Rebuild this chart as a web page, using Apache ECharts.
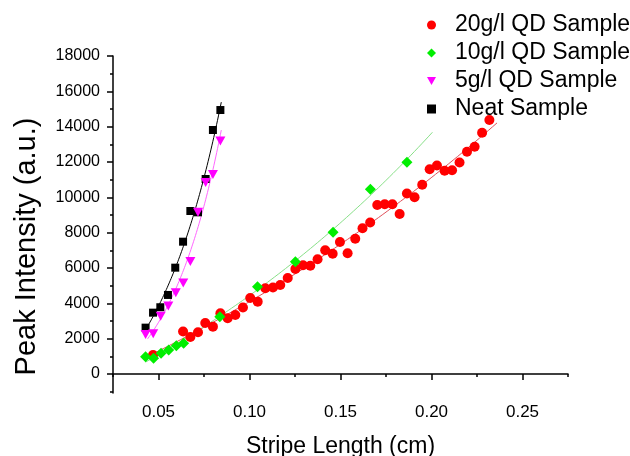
<!DOCTYPE html>
<html>
<head>
<meta charset="utf-8">
<script src="https://cdn.jsdelivr.net/npm/echarts@6/dist/echarts.min.js"></script>
<style>
  html, body { margin: 0; padding: 0; background: #fff; }
  #chart { width: 630px; height: 456px; }
</style>
</head>
<body>
<div id="chart"></div>
<script>
// Sample names (legend order)
const seriesNames = ['20g/l QD Sample', '10g/l QD Sample', '5g/l QD Sample', 'Neat Sample'];

// Stripe length (cm) and peak intensity (a.u.) per sample
const x20 = [0.0470, 0.0635, 0.0675, 0.0717, 0.0757, 0.0799,
             0.0840, 0.0880, 0.0922, 0.0964, 0.1004, 0.1045, 0.1087, 0.1129, 0.1169, 0.1210,
             0.1252, 0.1294, 0.1334, 0.1374, 0.1416, 0.1457, 0.1497, 0.1539, 0.1581, 0.1621,
             0.1663, 0.1702, 0.1743, 0.1785, 0.1825, 0.1865, 0.1907, 0.1949, 0.1990, 0.2030,
             0.2072, 0.2113, 0.2154, 0.2195, 0.2237, 0.2278, 0.2318];
const y20 = [1075, 2405, 2094, 2360, 2886, 2677,
             3435, 3152, 3339, 3763, 4301, 4092, 4850, 4895, 5037, 5433,
             5942, 6151, 6129, 6497, 7000, 6808, 7470, 6830, 7657, 8245,
             8573, 9564, 9603, 9603, 9054, 10215, 10000, 10712, 11584, 11799,
             11499, 11527, 11969, 12580, 12863, 13655, 14374];

const x10 = [0.0429, 0.0473, 0.0514, 0.0556, 0.0598, 0.0638, 0.0837, 0.1044, 0.1252, 0.1459, 0.1664, 0.1865];
const y10 = [979, 888, 1171, 1358, 1602, 1737, 3243, 4941, 6355, 8019, 10453, 11981];

const x5 = [0.0429, 0.0471, 0.0512, 0.0554, 0.0595, 0.0636, 0.0675, 0.0717, 0.0759, 0.0799, 0.0840];
const y5 = [2235, 2275, 3265, 3848, 4601, 5150, 6367, 9151, 10838, 11290, 13186];

const xNeat = [0.0429, 0.0470, 0.0510, 0.0552, 0.0592, 0.0635, 0.0675, 0.0717, 0.0759, 0.0799, 0.0840];
const yNeat = [2620, 3469, 3775, 4471, 6016, 7487, 9225, 9150, 11036, 13809, 14941];

// x extent of each growth-fit curve
const fitStart = [0.0429, 0.0429, 0.0440, 0.0429];
const fitEnd   = [0.2360, 0.2005, 0.0845, 0.0845];

// Axis ticks
const xMajorTicks = [0.05, 0.10, 0.15, 0.20, 0.25];
const xMinorTicks = [0.025, 0.075, 0.125, 0.175, 0.225, 0.275];
const yMajorTicks = [0, 2000, 4000, 6000, 8000, 10000, 12000, 14000, 16000, 18000];
const yMinorTicks = [-1000, 1000, 3000, 5000, 7000, 9000, 11000, 13000, 15000, 17000];

const markerColors = ['#ff0000', '#00ee00', '#ff00ff', '#000000'];
const fitColors = ['#e0505a', '#88e088', '#ff66ff', '#000000'];
const FONT = '"Liberation Sans", Arial, sans-serif';
const TRIANGLE_DOWN = 'path://M0,0L10,0L5,9Z';

// Exponential growth fit y = y0 + A*exp(B*x): scan B, solve y0 and A by least squares
function fitExpGrowth(xs, ys) {
  const n = xs.length;
  const my = ys.reduce((s, v) => s + v, 0) / n;
  let best = null;
  for (let b = 0.5; b <= 120; b += 0.05) {
    const e = xs.map(x => Math.exp(b * x));
    const me = e.reduce((s, v) => s + v, 0) / n;
    let cov = 0, ve = 0;
    for (let i = 0; i < n; i++) { cov += (e[i] - me) * (ys[i] - my); ve += (e[i] - me) * (e[i] - me); }
    const a = cov / ve, y0 = my - a * me;
    let sse = 0;
    for (let i = 0; i < n; i++) { const r = ys[i] - (y0 + a * e[i]); sse += r * r; }
    if (!best || sse < best.sse) best = { a, b, y0, sse };
  }
  return best;
}

function fitCurve(xs, ys, x0, x1) {
  const f = fitExpGrowth(xs, ys);
  const pts = [];
  const steps = 80;
  for (let i = 0; i <= steps; i++) {
    const x = x0 + (x1 - x0) * i / steps;
    pts.push([x, f.y0 + f.a * Math.exp(f.b * x)]);
  }
  return pts;
}

const xs = [x20, x10, x5, xNeat];
const ys = [y20, y10, y5, yNeat];
const symbols = ['circle', 'diamond', TRIANGLE_DOWN, 'rect'];
const symbolSizes = [10, 11, [10, 9], 8];

const fitSeries = xs.map((xv, k) => ({
  type: 'line',
  name: seriesNames[k] + ' fit',
  data: fitCurve(xv, ys[k], fitStart[k], fitEnd[k]),
  showSymbol: false,
  symbol: 'none',
  lineStyle: { color: fitColors[k], width: 1 },
  silent: true,
  z: 1
}));

const drawOrder = [0, 1, 3, 2];
const scatterSeries = drawOrder.map(k => ({
  type: 'scatter',
  name: seriesNames[k],
  data: xs[k].map((x, i) => [x, ys[k][i]]),
  symbol: symbols[k],
  symbolSize: symbolSizes[k],
  itemStyle: { color: markerColors[k], opacity: 1 },
  z: 3
}));

const axisLine = { show: true, lineStyle: { color: '#000', width: 1.5 } };

const chart = echarts.init(document.getElementById('chart'), null, { renderer: 'canvas' });
chart.setOption({
  animation: false,
  backgroundColor: '#fff',
  grid: { left: 113, right: 62, top: 56, bottom: 63, containLabel: false, outerBoundsMode: 'none' },
  legend: {
    orient: 'vertical',
    left: 422,
    top: 6,
    itemWidth: 9,
    itemHeight: 9,
    itemGap: 0,
    selectedMode: false,
    textStyle: { fontSize: 23, lineHeight: 28, color: '#000', fontFamily: FONT, padding: [0, 0, 0, 14] },
    data: seriesNames.map((name, k) => ({ name, icon: symbols[k] }))
  },
  xAxis: [
    {
      type: 'value', min: 0.025, max: 0.275, position: 'bottom',
      axisLine: axisLine,
      axisTick: { show: true, customValues: xMajorTicks, length: 6, lineStyle: { color: '#000', width: 1.5 } },
      axisLabel: { customValues: xMajorTicks, formatter: v => v.toFixed(2), margin: 11, fontSize: 17, color: '#000', fontFamily: FONT },
      splitLine: { show: false },
      name: 'Stripe Length (cm)', nameLocation: 'middle', nameGap: 42,
      nameTextStyle: { fontSize: 23, color: '#000', fontFamily: FONT }
    },
    {
      type: 'value', min: 0.025, max: 0.275, position: 'bottom',
      axisLine: { show: false },
      axisTick: { show: true, customValues: xMinorTicks, length: 3, lineStyle: { color: '#000', width: 1.5 } },
      axisLabel: { show: false },
      splitLine: { show: false }
    }
  ],
  yAxis: [
    {
      type: 'value', min: -1080, max: 18000, position: 'left',
      axisLine: axisLine,
      axisTick: { show: true, customValues: yMajorTicks, length: 6, lineStyle: { color: '#000', width: 1.5 } },
      axisLabel: { customValues: yMajorTicks, formatter: v => String(v), margin: 13, fontSize: 16, color: '#000', fontFamily: FONT },
      splitLine: { show: false },
      name: 'Peak Intensity (a.u.)', nameLocation: 'middle', nameGap: 72, nameRotate: 90,
      nameTextStyle: { fontSize: 29, color: '#000', fontFamily: FONT, padding: [0, 44, 0, 0] }
    },
    {
      type: 'value', min: -1080, max: 18000, position: 'left',
      axisLine: { show: false },
      axisTick: { show: true, customValues: yMinorTicks, length: 3, lineStyle: { color: '#000', width: 1.5 } },
      axisLabel: { show: false },
      splitLine: { show: false }
    }
  ],
  series: fitSeries.concat(scatterSeries)
});
</script>
</body>
</html>
